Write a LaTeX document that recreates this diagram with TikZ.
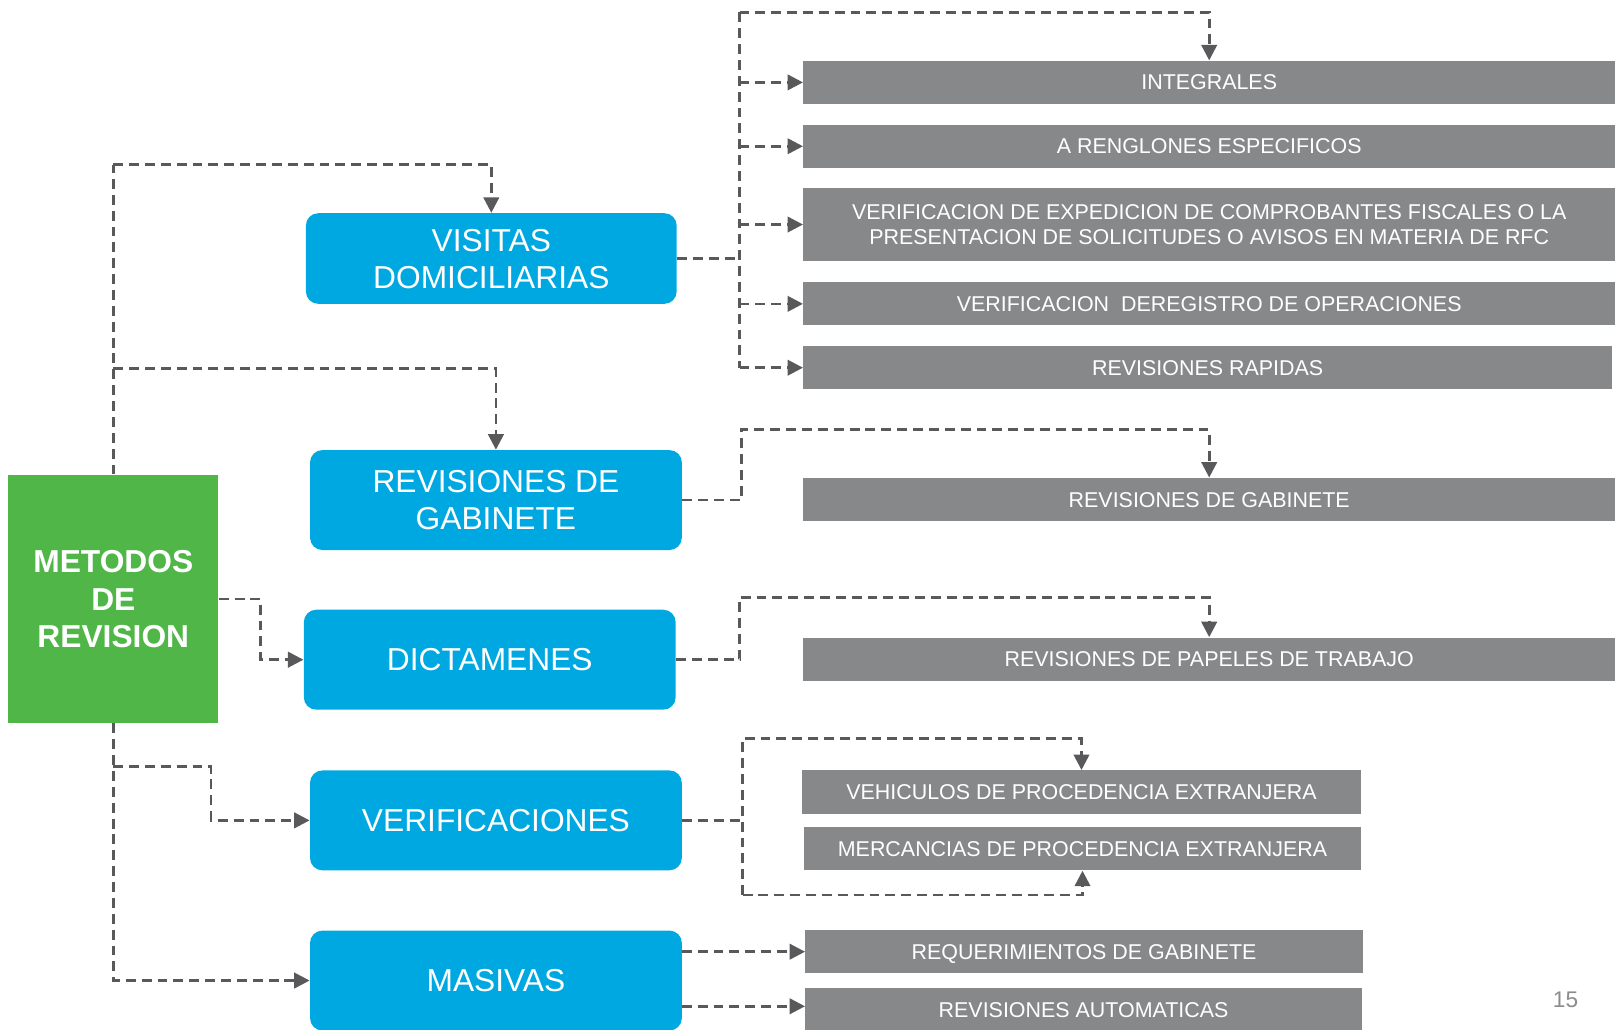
\documentclass[tikz,border=0pt]{standalone}
\usepackage{fontspec}
\setmainfont{Liberation Sans}
\usetikzlibrary{arrows.meta}
\definecolor{bluebox}{RGB}{0,168,225}
\definecolor{graybox}{RGB}{135,136,138}
\definecolor{greenbox}{RGB}{80,182,72}
\definecolor{connc}{RGB}{89,89,91}
\definecolor{pagenum}{RGB}{140,140,140}
\begin{document}
\begin{tikzpicture}[x=0.5pt,y=-0.5pt,
  bluenode/.style={fill=bluebox,rounded corners=6pt,text=white,align=center,inner sep=0pt,
    font=\fontsize{15.4}{18}\selectfont,minimum width=180.5pt,minimum height=48.5pt,text depth=-2pt},
  graynode/.style={fill=graybox,text=white,align=center,inner sep=0pt,
    font=\fontsize{10.4}{12}\selectfont,minimum height=21pt,text depth=-2pt},
  greennode/.style={fill=greenbox,text=white,align=center,inner sep=0pt,
    font=\fontsize{15.4}{18}\selectfont\bfseries,minimum width=102pt,minimum height=120.5pt,text depth=-1pt},
  conn/.style={draw=connc,line width=1.3pt,dash pattern=on 4.8pt off 2.9pt},
  arr/.style={conn,-{Triangle[length=7.5pt,width=7.5pt]},fill=none},
]
\useasboundingbox (0,0) rectangle (1568,1000);

% main nodes
\node[greennode] (green) at (110,581.5) {METODOS\\DE\\REVISION};
\node[bluenode,minimum width=180pt,minimum height=44pt] (vis) at (477,251) {VISITAS\\DOMICILIARIAS};
\node[bluenode] (rg) at (481.5,485.5) {REVISIONES DE\\GABINETE};
\node[bluenode] (dict) at (475.5,640.5) {DICTAMENES};
\node[bluenode] (ver) at (481.5,796.5) {VERIFICACIONES};
\node[bluenode] (mas) at (481.5,952) {MASIVAS};

% gray nodes
\node[graynode,minimum width=394pt] (g1) at (1174,80) {INTEGRALES};
\node[graynode,minimum width=394pt] (g2) at (1174,142) {A RENGLONES ESPECIFICOS};
\node[graynode,minimum width=394pt,minimum height=35pt] (g3) at (1174,218) {VERIFICACION DE EXPEDICION DE COMPROBANTES FISCALES O LA\\PRESENTACION DE SOLICITUDES O AVISOS EN MATERIA DE RFC};
\node[graynode,minimum width=394pt] (g4) at (1174,295) {VERIFICACION\ \ DEREGISTRO DE OPERACIONES};
\node[graynode,minimum width=392.5pt] (g5) at (1172.5,357) {REVISIONES RAPIDAS};
\node[graynode,minimum width=394pt] (g6) at (1174,485) {REVISIONES DE GABINETE};
\node[graynode,minimum width=394pt] (g7) at (1174,640) {REVISIONES DE PAPELES DE TRABAJO};
\node[graynode,minimum width=271pt] (g8) at (1050,769) {VEHICULOS DE PROCEDENCIA EXTRANJERA};
\node[graynode,minimum width=270pt] (g9) at (1051,824) {MERCANCIAS DE PROCEDENCIA EXTRANJERA};
\node[graynode,minimum width=270.5pt] (g10) at (1052.5,924) {REQUERIMIENTOS DE GABINETE};
\node[graynode,minimum width=270pt,minimum height=22pt] (g11) at (1052,981) {REVISIONES AUTOMATICAS};

\node[text=pagenum,font=\fontsize{11}{13}\selectfont,inner sep=0pt] (pg) at (1520,971) {15};

% connectors from green box
\coordinate (c1) at (110,160);
\coordinate (c2) at (110,358);
\coordinate (c3) at (253,581.5);
\coordinate (c5) at (110,744);
\coordinate (c6) at (205,744);
\draw[conn] (green.north) -- (c1);
\draw[arr] (c1) -| (vis.north);
\draw[arr] (c2) -| (rg.north);
\draw[arr] (green.east) -- (c3) |- (dict.west);
\draw[arr] (green.south) |- (mas.west);
\draw[arr] (c5) -- (c6) |- (ver.west);

% visitas domiciliarias
\coordinate (vt) at (718,12);
\draw[conn] (vis.east) -- (vt |- vis.east);
\draw[conn] (vt) -- (vt |- g5.west);
\draw[arr] (vt) -| (g1.north);
\draw[arr] (vt |- g1.west) -- (g1.west);
\draw[arr] (vt |- g2.west) -- (g2.west);
\draw[arr] (vt |- g3.west) -- (g3.west);
\draw[arr] (vt |- g4.west) -- (g4.west);
\draw[arr] (vt |- g5.west) -- (g5.west);

% revisiones de gabinete
\coordinate (r1) at (720,417);
\draw[arr] (rg.east) -| (r1) -| (g6.north);

% dictamenes
\coordinate (d1) at (718,580);
\draw[arr] (dict.east) -| (d1) -| (g7.north);

% verificaciones
\coordinate (v1) at (721,717);
\coordinate (v2) at (721,869);
\draw[conn] (ver.east) -- (v1 |- ver.east);
\draw[arr] (v2) -- (v1) -| (g8.north);
\draw[arr] (v2) -| (g9.south);

% masivas
\coordinate (m1) at (662,924);
\coordinate (m2) at (662,977);
\draw[arr] (m1) -- (m1 -| g10.west);
\draw[arr] (m2) -- (m2 -| g11.west);
\end{tikzpicture}
\end{document}
